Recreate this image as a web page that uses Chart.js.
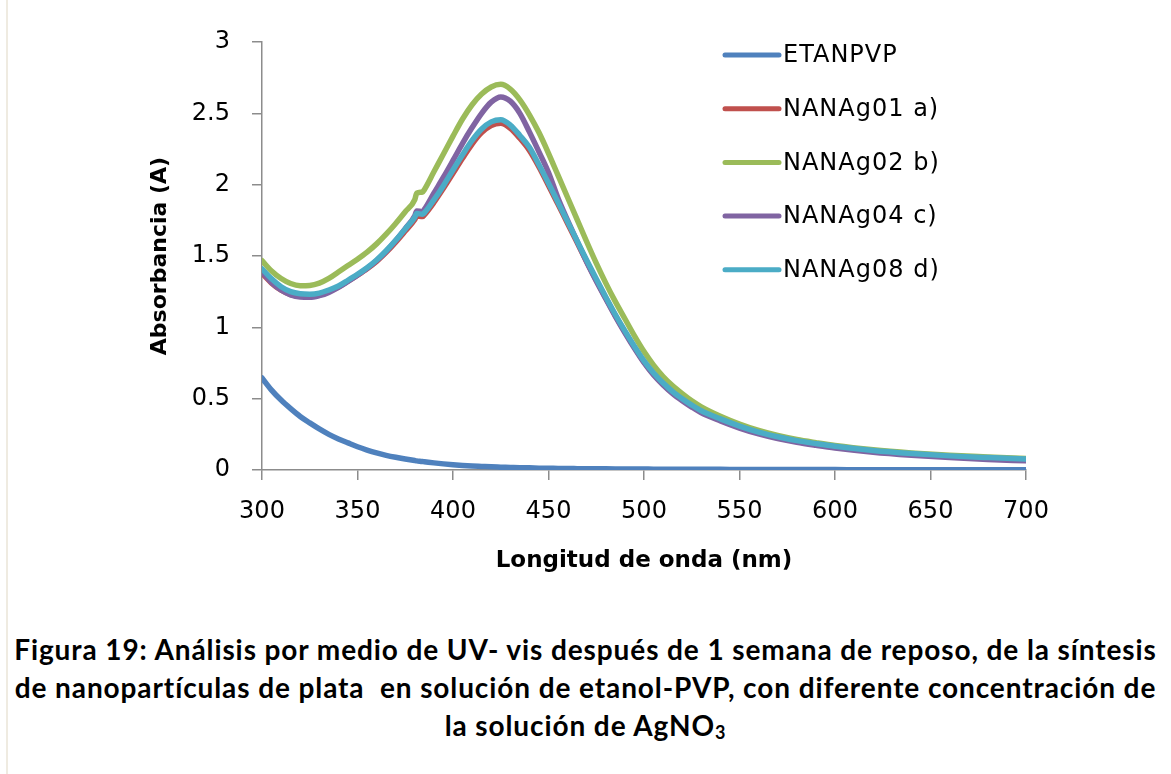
<!DOCTYPE html>
<html>
<head>
<meta charset="utf-8">
<script src="https://cdn.jsdelivr.net/npm/chart.js@4.4.0/dist/chart.umd.min.js"></script>
<style>
  body { margin: 0; background: #fff; width: 1171px; height: 774px; overflow: hidden; position: relative; }
  #edge { position: absolute; left: 6px; top: 0; width: 2px; height: 774px; background: #efebe1; }
  #wrap { position: absolute; left: 0; top: 0; width: 1171px; height: 600px; }
  #caption {
    position: absolute; left: 0; top: 630px; width: 1171px;
    text-align: center; font-family: Lato, "Noto Sans", sans-serif; font-weight: bold;
    font-size: 28px; letter-spacing: 0.9px; line-height: 38px; color: #000; white-space: nowrap;
  }
  #caption sub { font-size: 18px; vertical-align: -3px; line-height: 0; }
</style>
</head>
<body>
<div id="edge"></div>
<div id="wrap"><canvas id="grafico"></canvas></div>
<div id="caption">Figura 19: Análisis por medio de UV- vis después de 1 semana de reposo, de la síntesis<br>de nanopartículas de plata &nbsp;en solución de etanol-PVP, con diferente concentración de<br>la solución de AgNO<sub>3</sub></div>
<script>
// longitud de onda (nm)
const longitudes = [300,305,310,315,320,325,330,335,340,345,350,355,360,365,370,375,380,381,384,385,390,395,400,405,410,415,420,425,430,435,440,445,450,455,460,465,470,475,480,485,490,495,500,505,510,515,520,525,530,540,550,560,570,580,590,600,620,640,660,680,700];

const etanpvp = [0.645,0.56,0.49,0.43,0.375,0.33,0.288,0.25,0.218,0.19,0.163,0.14,0.12,0.103,0.089,0.077,0.066,0.064,0.06,0.058,0.05,0.043,0.037,0.032,0.028,0.025,0.022,0.02,0.018,0.016,0.015,0.013,0.012,0.011,0.01,0.0095,0.009,0.0085,0.008,0.0075,0.007,0.0068,0.0065,0.006,0.0058,0.0055,0.0052,0.005,0.0048,0.0045,0.004,0.0037,0.0034,0.0031,0.0029,0.0027,0.0023,0.002,0.0017,0.0014,0.0012];

const nanag01 = [1.378,1.31,1.26,1.23,1.218,1.217,1.228,1.252,1.283,1.323,1.365,1.41,1.462,1.525,1.597,1.675,1.755,1.78,1.776,1.788,1.875,1.975,2.08,2.185,2.285,2.365,2.415,2.43,2.395,2.325,2.24,2.125,1.995,1.862,1.728,1.594,1.46,1.33,1.205,1.082,0.968,0.86,0.758,0.673,0.603,0.543,0.493,0.448,0.408,0.352,0.302,0.26,0.227,0.2,0.18,0.161,0.132,0.111,0.094,0.082,0.072];

const nanag02 = [1.467,1.395,1.342,1.307,1.292,1.294,1.31,1.343,1.388,1.433,1.478,1.527,1.585,1.653,1.728,1.81,1.895,1.94,1.948,1.965,2.09,2.215,2.34,2.46,2.56,2.635,2.685,2.703,2.67,2.595,2.49,2.365,2.22,2.065,1.91,1.755,1.6,1.45,1.31,1.18,1.06,0.94,0.83,0.735,0.655,0.59,0.535,0.485,0.443,0.377,0.322,0.277,0.242,0.214,0.192,0.172,0.142,0.12,0.103,0.091,0.08];

const nanag04 = [1.39,1.315,1.262,1.228,1.212,1.21,1.222,1.245,1.28,1.322,1.366,1.413,1.468,1.533,1.608,1.692,1.782,1.815,1.812,1.826,1.94,2.052,2.17,2.29,2.4,2.5,2.578,2.615,2.585,2.5,2.37,2.23,2.085,1.905,1.75,1.603,1.458,1.325,1.2,1.077,0.962,0.853,0.752,0.666,0.596,0.536,0.486,0.441,0.401,0.344,0.294,0.253,0.22,0.194,0.173,0.154,0.125,0.104,0.087,0.074,0.064];

const nanag08 = [1.41,1.34,1.285,1.25,1.235,1.232,1.24,1.262,1.29,1.33,1.372,1.418,1.472,1.537,1.61,1.69,1.772,1.798,1.793,1.803,1.893,1.993,2.103,2.21,2.31,2.39,2.44,2.455,2.418,2.345,2.262,2.14,2.01,1.875,1.74,1.605,1.47,1.34,1.213,1.09,0.975,0.866,0.765,0.68,0.61,0.55,0.5,0.455,0.415,0.358,0.308,0.266,0.233,0.206,0.185,0.166,0.137,0.116,0.099,0.087,0.077];

const series = [
  { nombre: "ETANPVP", valores: etanpvp, color: "#4F81BD" },
  { nombre: "NANAg01 a)", valores: nanag01, color: "#C0504D" },
  { nombre: "NANAg02 b)", valores: nanag02, color: "#9BBB59" },
  { nombre: "NANAg04 c)", valores: nanag04, color: "#8064A2" },
  { nombre: "NANAg08 d)", valores: nanag08, color: "#4BACC6" }
];

const ejeX = [300, 700, 50];
const ejeY = [0, 3, 0.5];

// leyenda dibujada dentro del área del gráfico
const leyenda = {
  id: "leyenda",
  afterDatasetsDraw(chart) {
    const ctx = chart.ctx;
    ctx.save();
    ctx.font = '24px "DejaVu Sans"';
    ctx.letterSpacing = "1px";
    ctx.textBaseline = "middle";
    ctx.lineCap = "round";
    ctx.lineWidth = 5;
    chart.data.datasets.forEach((ds, i) => {
      const y = 55 + i * 53.7;
      ctx.strokeStyle = ds.borderColor;
      ctx.beginPath();
      ctx.moveTo(725, y);
      ctx.lineTo(779, y);
      ctx.stroke();
      ctx.fillStyle = "#000";
      ctx.fillText(ds.label, 783, y + 1);
    });
    ctx.restore();
  }
};

const ctx = document.getElementById("grafico").getContext("2d");
new Chart(ctx, {
  type: "line",
  data: {
    datasets: series.map((s, i) => ({
      label: s.nombre,
      data: longitudes.map((x, j) => ({ x: x, y: s.valores[j] })),
      borderColor: s.color,
      backgroundColor: s.color,
      borderWidth: 5.5,
      pointRadius: 0,
      cubicInterpolationMode: "monotone",
      borderCapStyle: "round",
      borderJoinStyle: "round",
      order: series.length - i
    }))
  },
  options: {
    responsive: true,
    maintainAspectRatio: false,
    animation: false,
    layout: { padding: { left: 0, right: 145, top: 42, bottom: 0 } },
    plugins: { legend: { display: false }, tooltip: { enabled: false } },
    scales: {
      x: {
        type: "linear",
        min: ejeX[0], max: ejeX[1],
        afterFit: (s) => { s.height = 130; },
        border: { color: "#8c8c8c", width: 1.5 },
        grid: { drawOnChartArea: false, tickLength: 10, color: "#8c8c8c", lineWidth: 1.5 },
        ticks: { stepSize: ejeX[2], padding: 17, color: "#000", font: { family: "DejaVu Sans", size: 24 } },
        title: { display: true, text: "Longitud de onda (nm)", color: "#000", padding: { top: 0, bottom: 25 }, font: { family: "DejaVu Sans", size: 23, weight: "bold" } }
      },
      y: {
        min: ejeY[0], max: ejeY[1],
        afterFit: (s) => { s.width = 262; },
        border: { color: "#8c8c8c", width: 1.5 },
        grid: { drawOnChartArea: false, tickLength: 10, color: "#8c8c8c", lineWidth: 1.5 },
        ticks: { stepSize: ejeY[2], padding: 22, color: "#000", font: { family: "DejaVu Sans", size: 24 }, callback: (v) => String(v) },
        title: { display: true, text: "Absorbancia (A)", color: "#000", padding: { top: 147, bottom: 0 }, font: { family: "DejaVu Sans", size: 22, weight: "bold" } }
      }
    }
  },
  plugins: [leyenda]
});
</script>
</body>
</html>
